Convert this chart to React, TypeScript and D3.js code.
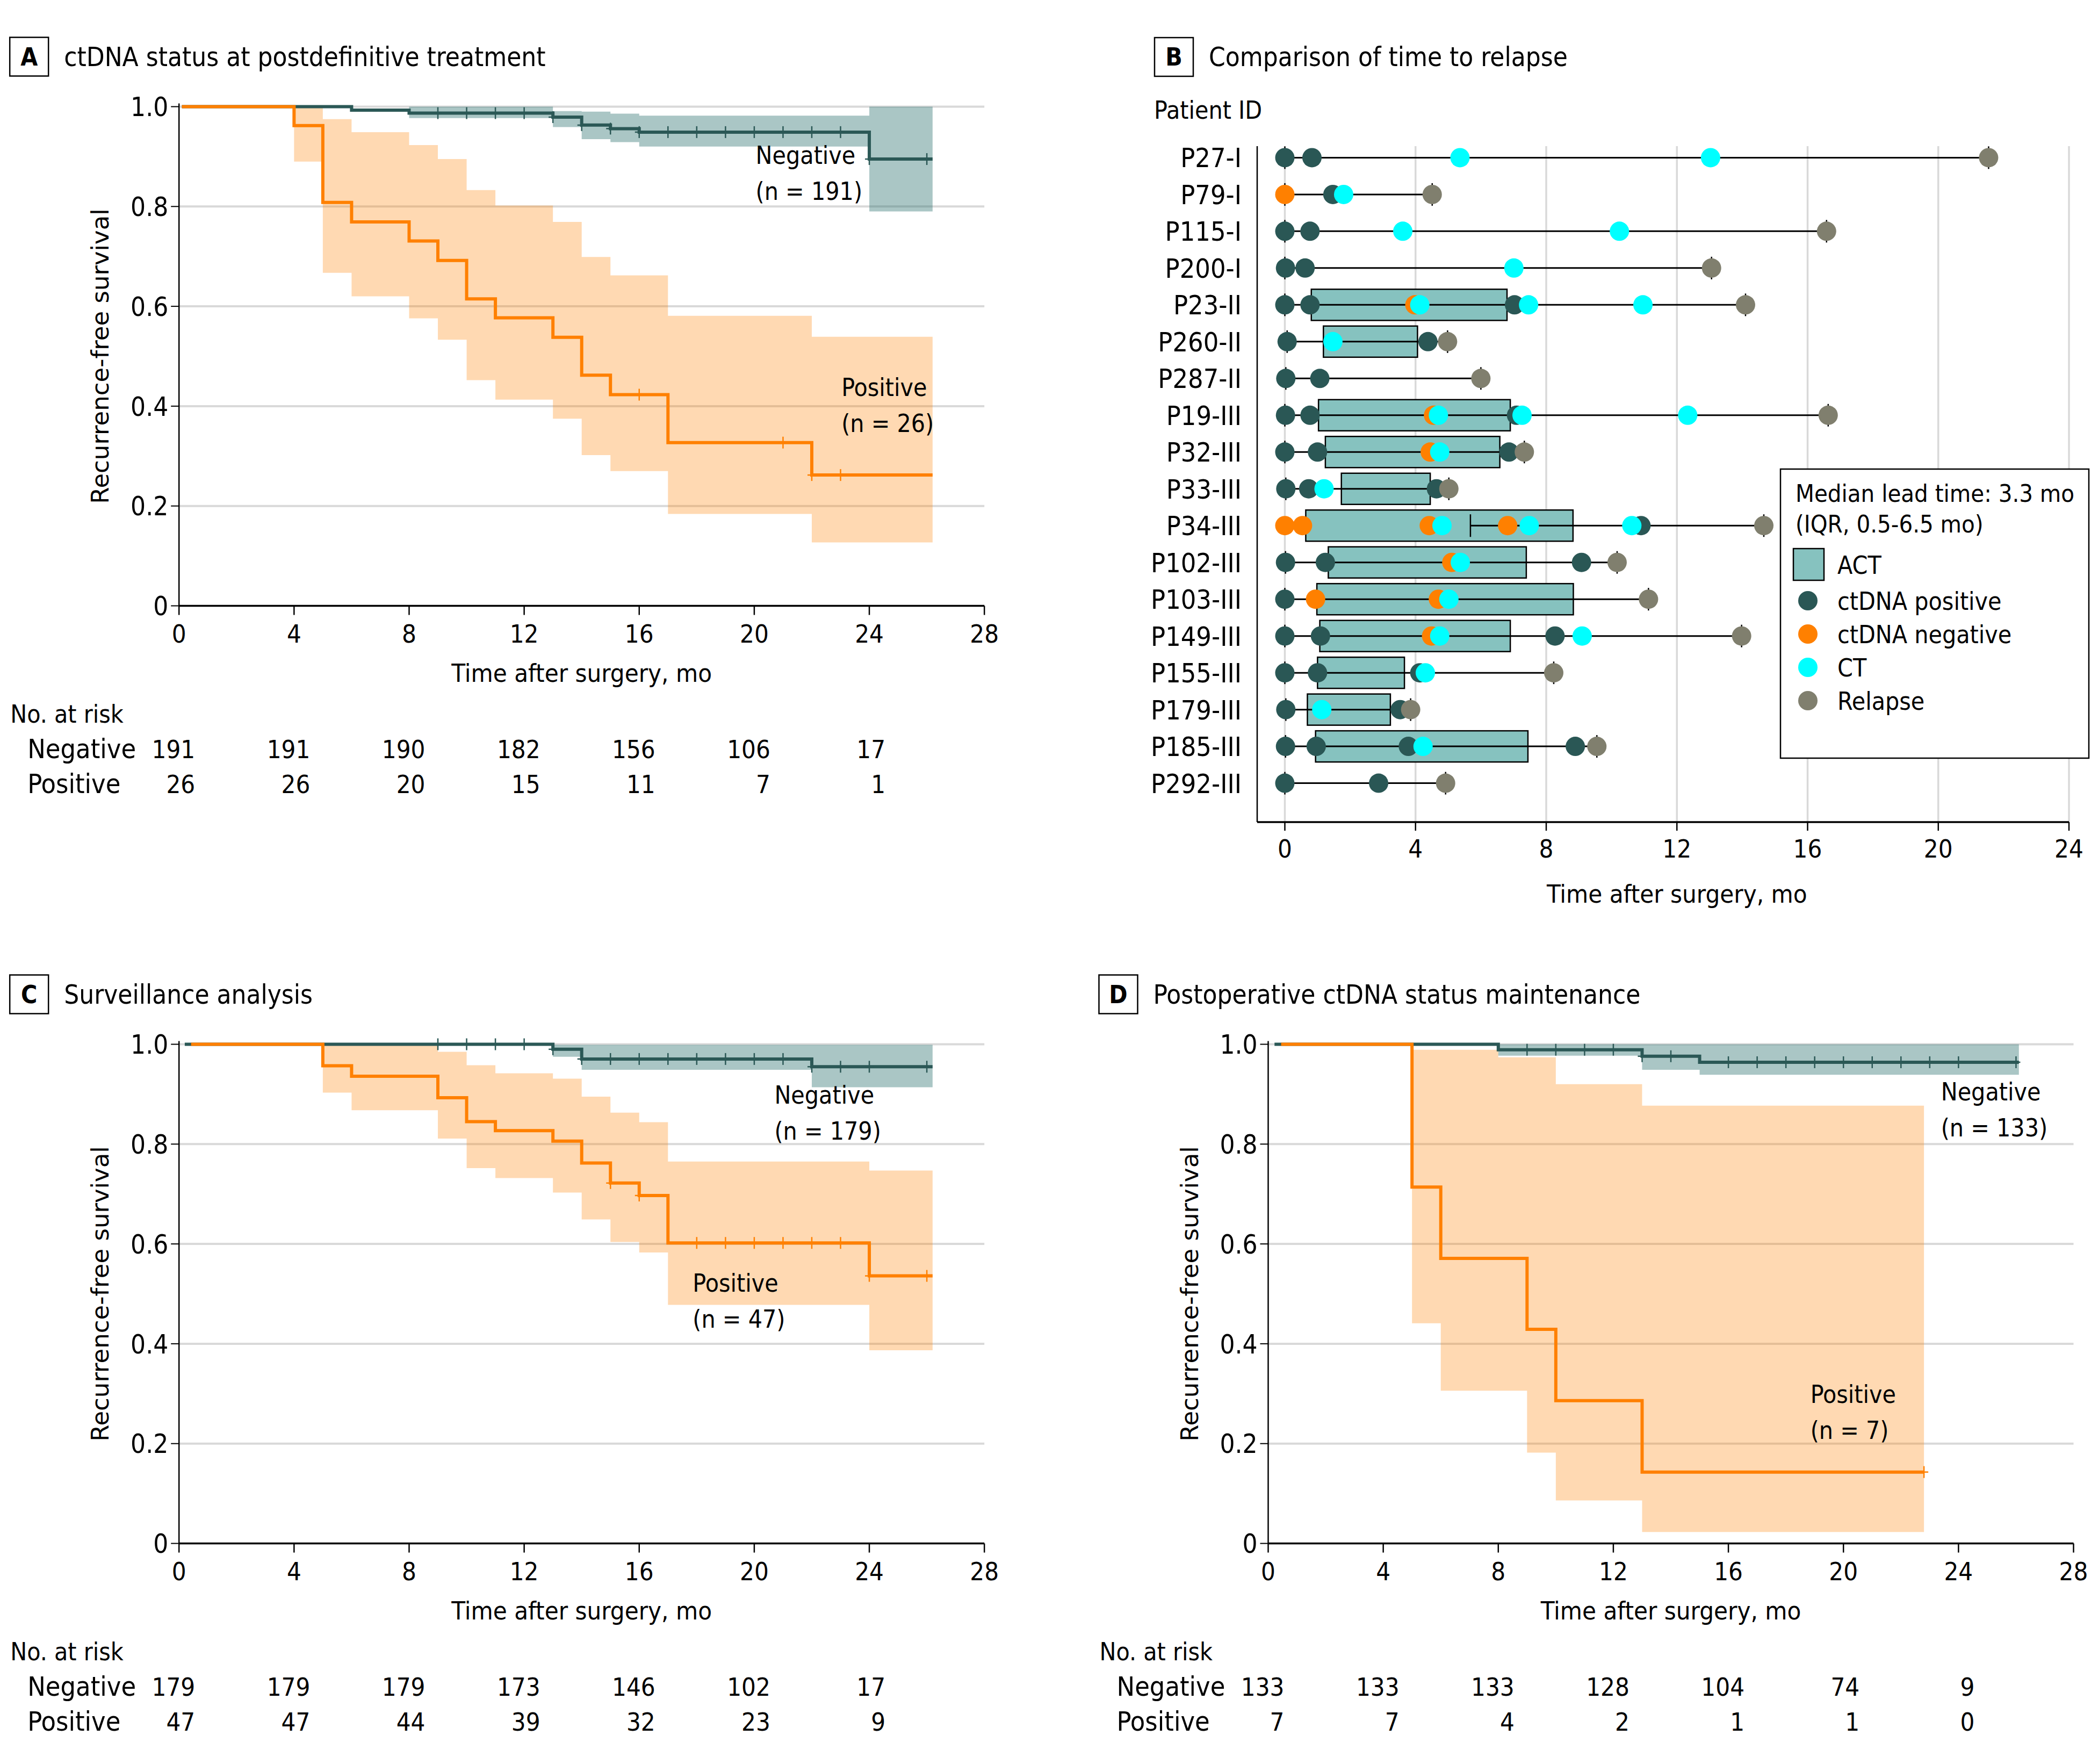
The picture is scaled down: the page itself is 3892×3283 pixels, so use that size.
import React from 'react';
import * as d3 from 'd3';

const W = 3892;
const H = 3283;
const FONT = "'DejaVu Sans Condensed', 'DejaVu Sans', sans-serif";
const FONT_WIDE = "'DejaVu Sans', sans-serif";

const NEG_COLOR = '#2b5856';
const POS_COLOR = '#ff8000';
const NEG_BAND = 'rgba(43,112,110,0.4)';
const POS_BAND = 'rgba(255,128,0,0.3)';
const GRID = '#d9d9d9';

// ---------- Panel A: ctDNA status at postdefinitive treatment ----------
const A_negTimes = [0.1, 6, 8, 13, 14, 15, 16, 24, 26.2];
const A_negSurv = [1, 0.993, 0.987, 0.979, 0.963, 0.956, 0.949, 0.895, 0.895];
const A_posTimes = [0.1, 4, 5, 6, 8, 9, 10, 11, 13, 14, 15, 17, 22, 26.2];
const A_posSurv = [1, 0.962, 0.808, 0.769, 0.731, 0.692, 0.615, 0.577, 0.538, 0.462, 0.423, 0.327, 0.262, 0.262];
const A_negBandTimes = [8, 13, 14, 15, 16, 24, 26.2];
const A_negBandLo = [0.977, 0.959, 0.935, 0.929, 0.92, 0.79, 0.79];
const A_negBandHi = [1.0, 0.991, 0.99, 0.986, 0.982, 1.0, 1.0];
const A_posBandTimes = [4, 5, 6, 8, 9, 10, 11, 13, 14, 15, 17, 22, 26.2];
const A_posBandHi = [1.0, 0.975, 0.949, 0.923, 0.895, 0.833, 0.802, 0.769, 0.699, 0.662, 0.581, 0.539, 0.539];
const A_posBandLo = [0.89, 0.667, 0.62, 0.576, 0.533, 0.452, 0.413, 0.375, 0.302, 0.27, 0.184, 0.127, 0.127];
const A_negCensor = [9, 10, 11, 12, 13, 14, 15, 16, 17, 18, 19, 20, 21, 22, 23, 24, 26];
const A_posCensor = [16, 21, 22, 23];
const A_negRisk = [191, 191, 190, 182, 156, 106, 17];
const A_posRisk = [26, 26, 20, 15, 11, 7, 1];

// ---------- Panel C: Surveillance analysis ----------
const C_negTimes = [0.2, 13, 14, 22, 26.2];
const C_negSurv = [1, 0.99, 0.9705, 0.955, 0.955];
const C_posTimes = [0.42, 5, 6, 9, 10, 11, 13, 14, 15, 16, 17, 24, 26.2];
const C_posSurv = [1, 0.957, 0.936, 0.893, 0.845, 0.827, 0.806, 0.762, 0.722, 0.697, 0.602, 0.536, 0.536];
const C_negBandTimes = [13, 14, 22, 26.2];
const C_negBandLo = [0.975, 0.949, 0.914, 0.914];
const C_negBandHi = [0.999, 0.999, 0.999, 0.999];
const C_posBandTimes = [5, 6, 9, 10, 11, 13, 14, 15, 16, 17, 24, 26.2];
const C_posBandHi = [0.998, 0.998, 0.985, 0.958, 0.942, 0.931, 0.895, 0.863, 0.844, 0.765, 0.747, 0.747];
const C_posBandLo = [0.903, 0.868, 0.811, 0.752, 0.732, 0.703, 0.649, 0.604, 0.583, 0.478, 0.387, 0.387];
const C_negCensor = [9, 10, 11, 12, 13, 14, 15, 16, 17, 18, 19, 20, 21, 22, 23, 24, 26];
const C_posCensor = [15, 16, 18, 19, 20, 21, 22, 23, 24, 26];
const C_negRisk = [179, 179, 179, 173, 146, 102, 17];
const C_posRisk = [47, 47, 44, 39, 32, 23, 9];

// ---------- Panel D: Postoperative ctDNA status maintenance ----------
const D_negTimes = [0.22, 8, 13, 15, 26.1];
const D_negSurv = [1, 0.989, 0.976, 0.964, 0.964];
const D_posTimes = [0.45, 5, 6, 9, 10, 13, 22.8];
const D_posSurv = [1, 0.714, 0.571, 0.429, 0.286, 0.143, 0.143];
const D_negBandTimes = [8, 13, 15, 26.1];
const D_negBandLo = [0.977, 0.949, 0.939, 0.939];
const D_negBandHi = [1, 1, 1, 1];
const D_posBandTimes = [5, 6, 8, 9, 10, 13, 22.8];
const D_posBandHi = [0.989, 0.989, 0.974, 0.974, 0.92, 0.877, 0.877];
const D_posBandLo = [0.441, 0.306, 0.306, 0.182, 0.086, 0.023, 0.023];
const D_negCensor = [9, 10, 11, 12, 13, 14, 16, 17, 18, 19, 20, 21, 22, 23, 24, 26];
const D_posCensor = [22.8];
const D_negRisk = [133, 133, 133, 128, 104, 74, 9];
const D_posRisk = [7, 7, 4, 2, 1, 1, 0];

const kmXTicks = [0, 4, 8, 12, 16, 20, 24, 28];
const riskTicks = [0, 4, 8, 12, 16, 20, 24];
const kmYTicks = [0, 0.2, 0.4, 0.6, 0.8, 1.0];
const kmYTickLabels = ['0', '0.2', '0.4', '0.6', '0.8', '1.0'];

// ---------- Panel B: Comparison of time to relapse ----------
const patients = ['P27-I', 'P79-I', 'P115-I', 'P200-I', 'P23-II', 'P260-II', 'P287-II', 'P19-III', 'P32-III', 'P33-III', 'P34-III', 'P102-III', 'P103-III', 'P149-III', 'P155-III', 'P179-III', 'P185-III', 'P292-III'];
const actStart = [null, null, null, null, 0.81, 1.18, null, 1.03, 1.24, 1.73, 0.64, 1.33, 0.98, 1.07, 1.0, 0.69, 0.94, null];
const actEnd = [null, null, null, null, 6.8, 4.06, null, 6.9, 6.58, 4.45, 8.82, 7.39, 8.83, 6.9, 3.66, 3.23, 7.44, null];
const trackStart = [0, 0, 0, 0, 0, 0.07, 0.03, 0, 0, 0.03, 5.68, 0.02, 0, 0, 0, 0.03, 0.02, 0];
const ctdnaPositive = [[0, 0.83], [1.47], [0, 0.77], [0.02, 0.62], [0, 0.77, 7.03], [0.07, 4.38], [0.03, 1.07], [0.02, 0.77, 7.09], [0, 1.0, 6.86], [0.03, 0.73, 4.64], [10.9], [0.02, 1.24, 9.08], [0], [0, 1.09, 8.27], [0, 1.0, 4.13], [0.03, 3.53], [0.02, 0.96, 3.78, 8.89], [0, 2.87]];
const ctdnaNegative = [[], [0], [], [], [3.98], [], [], [4.55], [4.45], [], [0, 0.54, 4.42, 6.82], [5.11], [0.94, 4.7], [4.49], [], [], [], []];
const ctScan = [[5.36, 13.03], [1.8], [3.61, 10.24], [7.01], [4.13, 7.46, 10.96], [1.47], [], [4.7, 7.26, 12.33], [4.74], [1.2], [4.81, 7.48, 10.62], [5.37], [5.02], [4.74, 9.1], [4.3], [1.13], [4.23], []];
const relapse = [21.54, 4.51, 16.58, 13.06, 14.1, 4.98, 6.0, 16.63, 7.33, 5.02, 14.66, 10.17, 11.13, 13.98, 8.23, 3.85, 9.55, 4.92];
const bXTicks = [0, 4, 8, 12, 16, 20, 24];

const DOT_COLORS = {
  pos: '#2a5755',
  neg: '#ff8000',
  ct: '#00ffff',
  relapse: '#807f6e',
};
const ACT_FILL = '#86c2bf';

const legendItems = [
  { label: 'ctDNA positive', color: DOT_COLORS.pos },
  { label: 'ctDNA negative', color: DOT_COLORS.neg },
  { label: 'CT', color: DOT_COLORS.ct },
  { label: 'Relapse', color: DOT_COLORS.relapse },
];

type Band = { t: number; lo: number; hi: number };

function zipSteps(times: number[], surv: number[]): [number, number][] {
  return times.map((t, i) => [t, surv[i]] as [number, number]);
}
function zipBand(times: number[], lo: number[], hi: number[]): Band[] {
  return times.map((t, i) => ({ t, lo: lo[i], hi: hi[i] }));
}
function survAt(times: number[], surv: number[], t: number) {
  let v = surv[0];
  for (let i = 0; i < times.length; i++) if (times[i] <= t + 1e-9) v = surv[i];
  return v;
}

function PanelLabel({ x, y, letter, title }: { x: number; y: number; letter: string; title: string }) {
  return (
    <g>
      <rect x={x} y={y} width={72} height={72} fill="none" stroke="#000" strokeWidth={2.5} />
      <text x={x + 36} y={y + 52} textAnchor="middle" fontFamily={FONT} fontWeight="bold" fontSize={46}>{letter}</text>
      <text x={x + 101} y={y + 53} fontFamily={FONT} fontSize={49}>{title}</text>
    </g>
  );
}

interface KMProps {
  letter: string;
  title: string;
  left: number;
  top: number;
  bottom: number;
  negTimes: number[]; negSurv: number[];
  posTimes: number[]; posSurv: number[];
  negBand: Band[]; posBand: Band[];
  negCensor: number[]; posCensor: number[];
  negRisk: number[]; posRisk: number[];
  negLabel: [number, number, string];
  posLabel: [number, number, string];
}

function KMPanel(p: KMProps) {
  const x = d3.scaleLinear().domain([0, 28]).range([p.left, p.left + 1499]);
  const y = d3.scaleLinear().domain([0, 1]).range([p.bottom, p.top]);
  const line = d3.line<[number, number]>().x((d) => x(d[0])).y((d) => y(d[1])).curve(d3.curveStepAfter);
  const area = d3.area<Band>().x((d) => x(d.t)).y0((d) => y(d.lo)).y1((d) => y(d.hi)).curve(d3.curveStepAfter);
  const censor = (times: number[], tt: number[], ss: number[], color: string) =>
    times.map((t, i) => {
      const cx = x(t);
      const cy = y(survAt(tt, ss, t));
      return (
        <g key={i} stroke={color} strokeWidth={2.5}>
          <line x1={cx} x2={cx} y1={cy - 11} y2={cy + 11} />
          <line x1={cx - 8} x2={cx + 8} y1={cy} y2={cy} />
        </g>
      );
    });
  const yLabelX = p.left - 147;
  const yMid = (p.top + p.bottom) / 2;
  return (
    <g>
      <PanelLabel x={p.left - 315} y={p.top - 129} letter={p.letter} title={p.title} />
      {kmYTicks.filter((v) => v > 0).map((v) => (
        <line key={v} x1={x(0)} x2={x(28)} y1={y(v)} y2={y(v)} stroke={GRID} strokeWidth={4} />
      ))}
      <path d={area(p.negBand) || ''} fill={NEG_BAND} />
      <path d={area(p.posBand) || ''} fill={POS_BAND} />
      <line x1={x(0)} x2={x(0)} y1={y(1) - 6} y2={y(0)} stroke="#000" strokeWidth={2.5} />
      <line x1={x(0)} x2={x(28)} y1={y(0)} y2={y(0)} stroke="#000" strokeWidth={3.5} />
      {kmYTicks.map((v, i) => (
        <g key={v}>
          <line x1={x(0) - 15} x2={x(0)} y1={y(v)} y2={y(v)} stroke="#000" strokeWidth={2} />
          <text x={x(0) - 20} y={y(v)} dy="0.36em" textAnchor="end" fontFamily={FONT} fontSize={49}>{kmYTickLabels[i]}</text>
        </g>
      ))}
      {kmXTicks.map((t) => (
        <g key={t}>
          <line x1={x(t)} x2={x(t)} y1={y(0)} y2={y(0) + 17} stroke="#000" strokeWidth={2.5} />
          <text x={x(t)} y={y(0) + 68} textAnchor="middle" fontFamily={FONT} fontSize={47}>{t}</text>
        </g>
      ))}
      <text x={(x(0) + x(28)) / 2} y={y(0) + 141} textAnchor="middle" fontFamily={FONT} fontSize={47}>Time after surgery, mo</text>
      <text transform={`translate(${yLabelX},${yMid}) rotate(-90)`} textAnchor="middle" dy="0.36em" fontFamily={FONT_WIDE} fontSize={45}>Recurrence-free survival</text>
      <path d={line(zipSteps(p.negTimes, p.negSurv)) || ''} fill="none" stroke={NEG_COLOR} strokeWidth={6} />
      {censor(p.negCensor, p.negTimes, p.negSurv, NEG_COLOR)}
      <path d={line(zipSteps(p.posTimes, p.posSurv)) || ''} fill="none" stroke={POS_COLOR} strokeWidth={6} />
      {censor(p.posCensor, p.posTimes, p.posSurv, POS_COLOR)}
      <text x={x(p.negLabel[0])} y={y(p.negLabel[1])} fontFamily={FONT} fontSize={46}>Negative</text>
      <text x={x(p.negLabel[0])} y={y(p.negLabel[1]) + 67} fontFamily={FONT} fontSize={46}>{p.negLabel[2]}</text>
      <text x={x(p.posLabel[0])} y={y(p.posLabel[1])} fontFamily={FONT} fontSize={46}>Positive</text>
      <text x={x(p.posLabel[0])} y={y(p.posLabel[1]) + 67} fontFamily={FONT} fontSize={46}>{p.posLabel[2]}</text>
      <text x={p.left - 314} y={y(0) + 217} fontFamily={FONT} fontSize={46}>No. at risk</text>
      <text x={p.left - 282} y={y(0) + 283} fontFamily={FONT} fontSize={50}>Negative</text>
      <text x={p.left - 282} y={y(0) + 348} fontFamily={FONT} fontSize={50}>Positive</text>
      {riskTicks.map((t, i) => (
        <g key={t}>
          <text x={x(t) + 30} y={y(0) + 283} textAnchor="end" fontFamily={FONT} fontSize={47}>{p.negRisk[i]}</text>
          <text x={x(t) + 30} y={y(0) + 348} textAnchor="end" fontFamily={FONT} fontSize={47}>{p.posRisk[i]}</text>
        </g>
      ))}
    </g>
  );
}

function PanelB() {
  const x = d3.scaleLinear().domain([0, 24]).range([2391.5, 3851]);
  const y = d3.scalePoint<string>().domain(patients).range([293.4, 1457.6]);
  const axisLeft = x(0) - 51.5;
  const axisTop = 272;
  const axisBottom = 1530;
  const boxH = 58;
  const r = 18;
  const cap = 21;
  const legX = 3314;
  const legY = 873;
  return (
    <g>
      <PanelLabel x={2149} y={70} letter="B" title="Comparison of time to relapse" />
      <text x={2148} y={221} fontFamily={FONT} fontSize={46}>Patient ID</text>
      {bXTicks.map((t) => (
        <line key={'g' + t} x1={x(t)} x2={x(t)} y1={axisTop} y2={axisBottom} stroke={GRID} strokeWidth={3.5} />
      ))}
      <line x1={axisLeft} x2={axisLeft} y1={axisTop} y2={axisBottom} stroke="#000" strokeWidth={2.5} />
      <line x1={axisLeft} x2={x(24)} y1={axisBottom} y2={axisBottom} stroke="#000" strokeWidth={3.5} />
      {bXTicks.map((t) => (
        <g key={t}>
          <line x1={x(t)} x2={x(t)} y1={axisBottom} y2={axisBottom + 16} stroke="#000" strokeWidth={2.5} />
          <text x={x(t)} y={axisBottom + 66} textAnchor="middle" fontFamily={FONT} fontSize={47}>{t}</text>
        </g>
      ))}
      <text x={(x(0) + x(24)) / 2} y={axisBottom + 150} textAnchor="middle" fontFamily={FONT} fontSize={47}>Time after surgery, mo</text>
      {patients.map((pid, i) => {
        const cy = y(pid) as number;
        const s = actStart[i];
        const e = actEnd[i];
        const ts = trackStart[i];
        const te = relapse[i];
        return (
          <g key={pid}>
            <text x={axisLeft - 29} y={cy} dy="0.36em" textAnchor="end" fontFamily={FONT} fontSize={50}>{pid}</text>
            {s != null && e != null && (
              <rect x={x(s)} y={cy - boxH / 2} width={x(e) - x(s)} height={boxH} fill={ACT_FILL} stroke="#000" strokeWidth={2.5} />
            )}
            <line x1={x(ts)} x2={x(te)} y1={cy} y2={cy} stroke="#000" strokeWidth={3} />
            <line x1={x(ts)} x2={x(ts)} y1={cy - cap} y2={cy + cap} stroke="#000" strokeWidth={2.5} />
            <line x1={x(te)} x2={x(te)} y1={cy - cap} y2={cy + cap} stroke="#000" strokeWidth={2.5} />
            {ctdnaPositive[i].map((t, j) => <circle key={'p' + j} cx={x(t)} cy={cy} r={r} fill={DOT_COLORS.pos} />)}
            {ctdnaNegative[i].map((t, j) => <circle key={'n' + j} cx={x(t)} cy={cy} r={r} fill={DOT_COLORS.neg} />)}
            {ctScan[i].map((t, j) => <circle key={'c' + j} cx={x(t)} cy={cy} r={r} fill={DOT_COLORS.ct} />)}
            <circle cx={x(te)} cy={cy} r={r} fill={DOT_COLORS.relapse} />
          </g>
        );
      })}
      <rect x={legX} y={legY} width={574} height={538} fill="#fff" stroke="#000" strokeWidth={2.5} />
      <text x={legX + 28} y={legY + 61} fontFamily={FONT} fontSize={45}>Median lead time: 3.3 mo</text>
      <text x={legX + 28} y={legY + 118} fontFamily={FONT} fontSize={45}>(IQR, 0.5-6.5 mo)</text>
      <rect x={legX + 24} y={legY + 148} width={57} height={59} fill={ACT_FILL} stroke="#000" strokeWidth={2.5} />
      <text x={legX + 106} y={legY + 178} dy="0.36em" fontFamily={FONT} fontSize={46}>ACT</text>
      {legendItems.map((it, i) => (
        <g key={it.label}>
          <circle cx={legX + 51} cy={legY + 245 + i * 62} r={r} fill={it.color} />
          <text x={legX + 106} y={legY + 245 + i * 62} dy="0.36em" fontFamily={FONT} fontSize={46}>{it.label}</text>
        </g>
      ))}
    </g>
  );
}

export default function App() {
  return (
    <svg width={W} height={H} viewBox={`0 0 ${W} ${H}`} style={{ position: 'absolute', left: 0, top: 0, background: '#fff' }}>
      <rect x={0} y={0} width={W} height={H} fill="#fff" />
      <KMPanel
        letter="A" title="ctDNA status at postdefinitive treatment"
        left={333.2} top={198.5} bottom={1127.5}
        negTimes={A_negTimes} negSurv={A_negSurv} posTimes={A_posTimes} posSurv={A_posSurv}
        negBand={zipBand(A_negBandTimes, A_negBandLo, A_negBandHi)}
        posBand={zipBand(A_posBandTimes, A_posBandLo, A_posBandHi)}
        negCensor={A_negCensor} posCensor={A_posCensor}
        negRisk={A_negRisk} posRisk={A_posRisk}
        negLabel={[20.05, 0.885, '(n = 191)']} posLabel={[23.03, 0.42, '(n = 26)']}
      />
      <PanelB />
      <KMPanel
        letter="C" title="Surveillance analysis"
        left={333.2} top={1943.5} bottom={2872.5}
        negTimes={C_negTimes} negSurv={C_negSurv} posTimes={C_posTimes} posSurv={C_posSurv}
        negBand={zipBand(C_negBandTimes, C_negBandLo, C_negBandHi)}
        posBand={zipBand(C_posBandTimes, C_posBandLo, C_posBandHi)}
        negCensor={C_negCensor} posCensor={C_posCensor}
        negRisk={C_negRisk} posRisk={C_posRisk}
        negLabel={[20.7, 0.881, '(n = 179)']} posLabel={[17.86, 0.504, '(n = 47)']}
      />
      <KMPanel
        letter="D" title="Postoperative ctDNA status maintenance"
        left={2360.5} top={1943.5} bottom={2872.5}
        negTimes={D_negTimes} negSurv={D_negSurv} posTimes={D_posTimes} posSurv={D_posSurv}
        negBand={zipBand(D_negBandTimes, D_negBandLo, D_negBandHi)}
        posBand={zipBand(D_posBandTimes, D_posBandLo, D_posBandHi)}
        negCensor={D_negCensor} posCensor={D_posCensor}
        negRisk={D_negRisk} posRisk={D_posRisk}
        negLabel={[23.39, 0.8875, '(n = 133)']} posLabel={[18.85, 0.281, '(n = 7)']}
      />
    </svg>
  );
}
